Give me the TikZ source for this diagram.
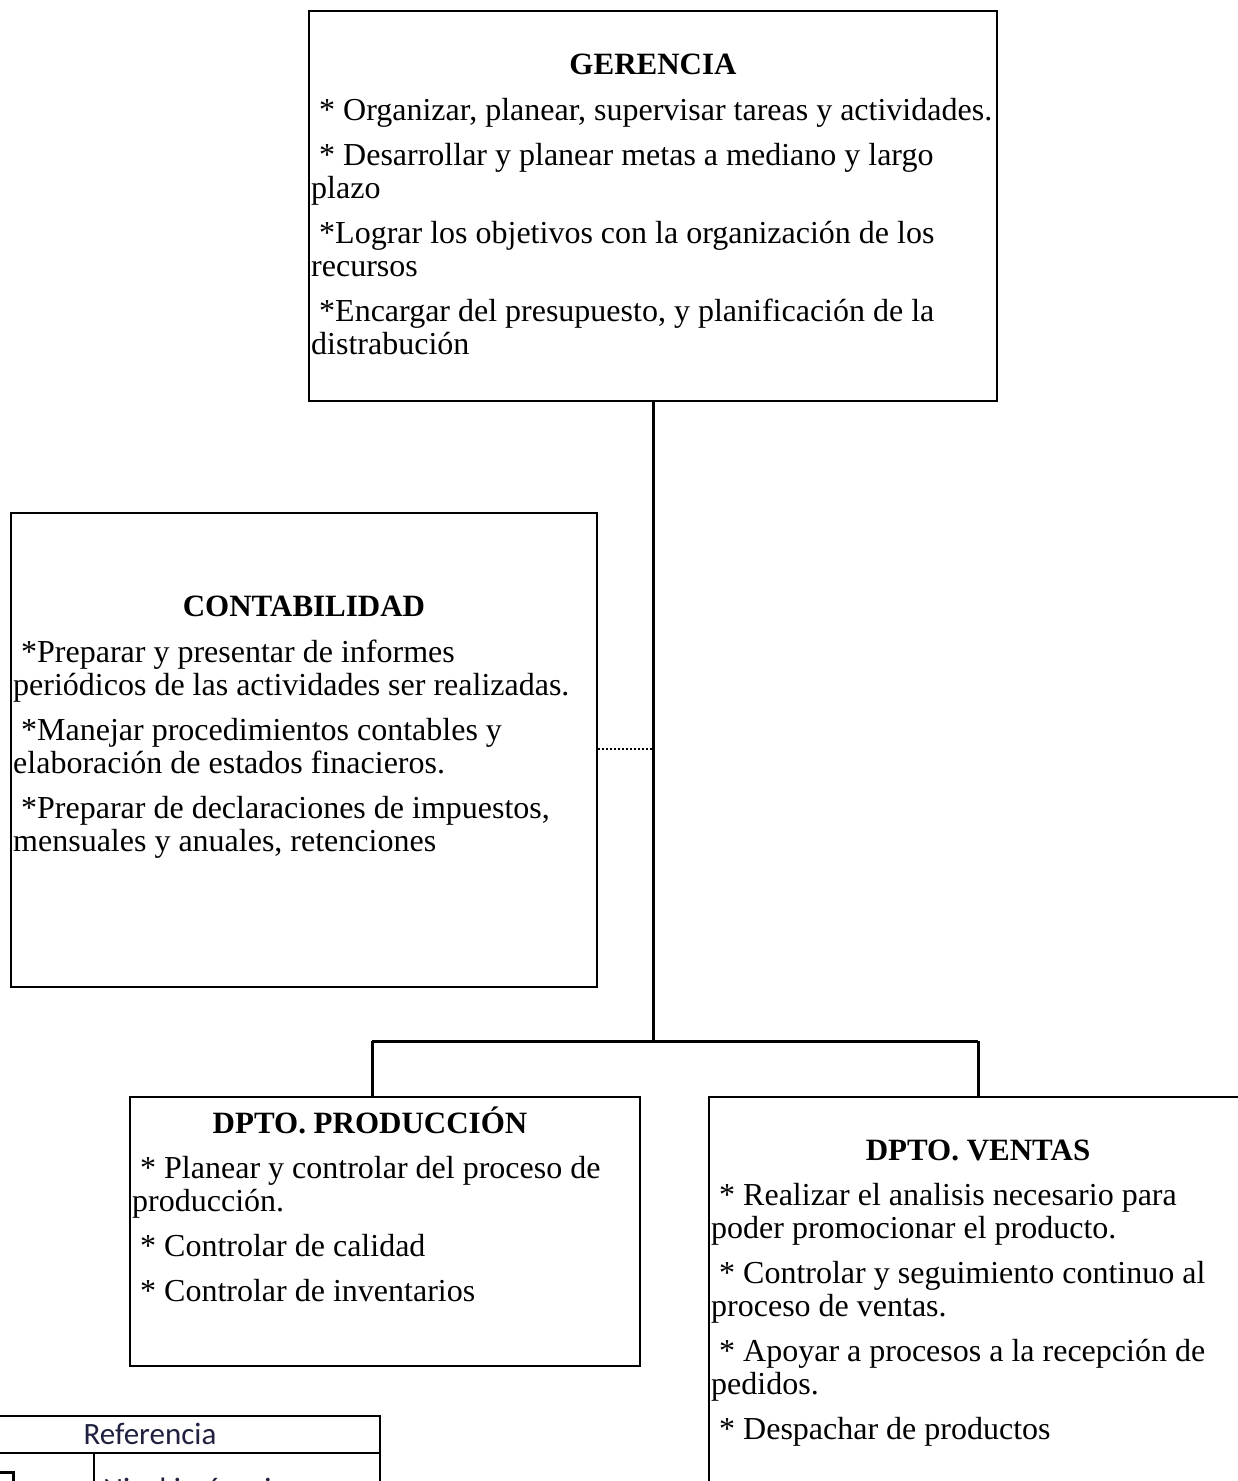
\documentclass[tikz,border=0pt]{standalone}
\usepackage{fontspec}
\setmainfont{Liberation Serif}
\newfontfamily\calfont{Carlito}
\definecolor{legendtxt}{RGB}{32,32,64}
\tikzset{
  unit/.style={draw=black, line width=2.5pt, inner sep=0pt, rectangle},
  title/.style={font=\fontsize{31}{33}\selectfont\bfseries, inner sep=0pt, anchor=base},
  body/.style={font=\fontsize{32}{33}\selectfont, inner sep=0pt, anchor=north west, align=left},
  link/.style={line width=3pt},
  staff/.style={line width=2pt, dash pattern=on 2pt off 2pt},
  legendline/.style={line width=1.5pt},
  legendtext/.style={font=\calfont\fontsize{31}{33}\selectfont, text=legendtxt, inner sep=0pt, anchor=base},
}
\begin{document}
\begin{tikzpicture}[x=1pt,y=-1pt]
\useasboundingbox (0,0) rectangle (1238,1481);
\clip (0,0) rectangle (1238,1481);
\fill[white] (0,0) rectangle (1238,1481);

% boxes
\node[unit, minimum width=688pt, minimum height=390pt] (ger) at (653,206) {};
\node[unit, minimum width=586pt, minimum height=474pt] (cont) at (304,750) {};
\node[unit, minimum width=510pt, minimum height=269pt] (prod) at (385,1231.5) {};
\node[unit, minimum width=551pt, minimum height=423pt] (vent) at (984.5,1308.5) {};

% titles
\node[title] (gert) at (653,74) {GERENCIA};
\node[title] (contt) at (304,616) {CONTABILIDAD};
\node[title] (prodt) at (370,1133) {DPTO. PRODUCCIÓN};
\node[title] (ventt) at (978,1160) {DPTO. VENTAS};

% bodies (top = first baseline - 30)
\node[body] (gerb) at (311,90) {\rule{0pt}{30pt}~* Organizar, planear, supervisar tareas y actividades.\\[12pt]
~* Desarrollar y planear metas a mediano y largo\\
plazo\\[12pt]
~*Lograr los objetivos con la organización de los\\
recursos\\[12pt]
~*Encargar del presupuesto, y planificación de la\\
distrabución};

\node[body] (contb) at (13,632) {\rule{0pt}{30pt}~*Preparar y presentar de informes\\
periódicos de las actividades ser realizadas.\\[12pt]
~*Manejar procedimientos contables y\\
elaboración de estados finacieros.\\[12pt]
~*Preparar de declaraciones de impuestos,\\
mensuales y anuales, retenciones};

\node[body] (prodb) at (132,1148) {\rule{0pt}{30pt}~* Planear y controlar del proceso de\\
producción.\\[12pt]
~* Controlar de calidad\\[12pt]
~* Controlar de inventarios};

\node[body] (ventb) at (711,1175) {\rule{0pt}{30pt}~* Realizar el analisis necesario para\\
poder promocionar el producto.\\[12pt]
~* Controlar y seguimiento continuo al\\
proceso de ventas.\\[12pt]
~* Apoyar a procesos a la recepción de\\
pedidos.\\[12pt]
~* Despachar de productos};

% connectors
\coordinate (j) at (653,1041);
\coordinate (jl) at (372,1041);
\coordinate (jr) at (978,1041);
\coordinate (dj) at (653,749);
\draw[link] (ger.south) -- (j);
\draw[link] (jl) -- (jr);
\draw[link] (jl) -- (jl |- prod.north);
\draw[link] (jr) -- (jr |- vent.north);
\draw[staff] (dj -| cont.east) -- (dj);

% legend table
\draw[legendline] (-5,1416) -- (381,1416);
\draw[legendline] (380,1416) -- (380,1490);
\draw[legendline] (-5,1453) -- (381,1453);
\draw[legendline] (94,1453) -- (94,1490);
\node[legendtext] (legt) at (150,1444) {Referencia};
\node[draw, line width=3pt, minimum width=30pt, minimum height=30pt, inner sep=0pt] (legsym) at (-2,1487) {};
\node[legendtext, anchor=base west] (legn) at (103,1499) {Nivel jerárquico};
\end{tikzpicture}
\end{document}
